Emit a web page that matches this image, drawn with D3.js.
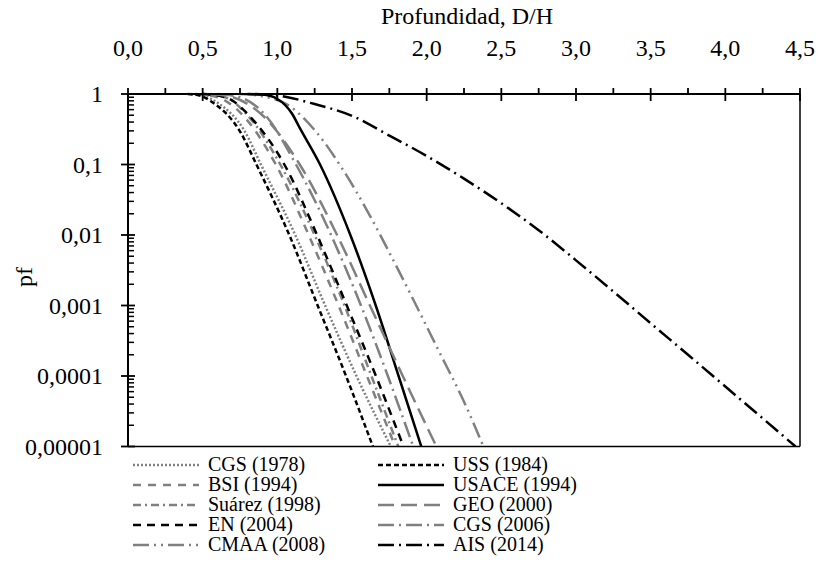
<!DOCTYPE html>
<html>
<head>
<meta charset="utf-8">
<script src="https://cdn.jsdelivr.net/npm/d3@7/dist/d3.min.js"></script>
<style>
  html, body { margin:0; padding:0; background:#fff; }
</style>
</head>
<body>
<svg id="chart" width="819" height="587"></svg>
<script>
// ---- data: [D/H, pf] ----------------------------------------------------
var cgs1978  = [[0.42,1],[0.50,0.95],[0.60,0.75],[0.78,0.30],[0.89,0.1],[1.12,0.01],[1.32,0.001],[1.53,0.0001],[1.76,0.00001]];
var uss1984  = [[0.40,1],[0.48,0.95],[0.555,0.79],[0.756,0.28],[0.86,0.1],[1.08,0.01],[1.27,0.001],[1.46,0.0001],[1.64,0.00001]];
var bsi1994  = [[0.45,1],[0.60,0.9],[0.75,0.55],[0.99,0.1],[1.21,0.01],[1.41,0.001],[1.60,0.0001],[1.79,0.00001]];
var usace1994= [[0.80,1],[0.90,0.98],[1.00,0.85],[1.10,0.52],[1.15,0.33],[1.286,0.1],[1.489,0.01],[1.659,0.001],[1.812,0.0001],[1.964,0.00001]];
var suarez1998=[[0.50,1],[0.65,0.9],[0.80,0.5],[1.02,0.1],[1.25,0.01],[1.45,0.001],[1.63,0.0001],[1.81,0.00001]];
var geo2000  = [[0.55,1],[0.70,0.9],[0.90,0.5],[1.15,0.1],[1.40,0.01],[1.62,0.001],[1.84,0.0001],[2.065,0.00001]];
var en2004   = [[0.50,1],[0.65,0.9],[0.85,0.4],[1.047,0.1],[1.266,0.01],[1.465,0.001],[1.66,0.0001],[1.845,0.00001]];
var cgs2006  = [[0.60,1],[0.75,0.9],[0.92,0.5],[1.125,0.1],[1.36,0.01],[1.56,0.001],[1.74,0.0001],[1.91,0.00001]];
var cmaa2008 = [[0.75,1],[0.90,0.93],[1.07,0.70],[1.26,0.29],[1.443,0.082],[1.613,0.02],[1.767,0.0048],[1.915,0.00116],[2.094,0.0002],[2.24,0.000048],[2.38,0.00001]];
var ais2014  = [[0.85,1],[1.0,0.955],[1.25,0.72],[1.5,0.49],[1.75,0.257],[2.0,0.132],[2.25,0.063],[2.5,0.0282],[2.75,0.0117],[3.0,0.00437],[3.25,0.00158],[3.5,0.00056],[3.75,0.0002],[4.0,0.0000708],[4.25,0.0000251],[4.47,0.00001]];

var xTicks = [0,0.5,1,1.5,2,2.5,3,3.5,4,4.5];
var yTicks = [1,0.1,0.01,0.001,0.0001,0.00001];
var yTickLabels = ["1","0,1","0,01","0,001","0,0001","0,00001"];

// legend order: left column then right column
var series = [
  {name:"CGS (1978)",   pts:cgs1978,   col:"#808080", dash:"2 2"},
  {name:"BSI (1994)",   pts:bsi1994,   col:"#808080", dash:"8 7"},
  {name:"Suárez (1998)",pts:suarez1998,col:"#808080", dash:"8 4 2 4"},
  {name:"EN (2004)",    pts:en2004,    col:"#000000", dash:"8 6"},
  {name:"CMAA (2008)",  pts:cmaa2008,  col:"#808080", dash:"16 5 2 5 2 5"},
  {name:"USS (1984)",   pts:uss1984,   col:"#000000", dash:"5 3"},
  {name:"USACE (1994)", pts:usace1994, col:"#000000", dash:null},
  {name:"GEO (2000)",   pts:geo2000,   col:"#808080", dash:"16 7"},
  {name:"CGS (2006)",   pts:cgs2006,   col:"#808080", dash:"16 5 2 5"},
  {name:"AIS (2014)",   pts:ais2014,   col:"#000000", dash:"16 5 2 5"}
];

var FONT = "Liberation Serif";
var svg = d3.select("#chart");
var L=128, R=800, T=94, B=446.5;
var x = d3.scaleLinear().domain([0,4.5]).range([L,R]);
var y = d3.scaleLog().domain([1,1e-5]).range([T,B]);
var FS = 24;

svg.append("clipPath").attr("id","plot").append("rect")
  .attr("x",L).attr("y",T-2).attr("width",R-L).attr("height",B-T+2);

var line = d3.line().x(function(d){return x(d[0]);}).y(function(d){return y(d[1]);})
  .curve(d3.curveMonotoneX);
var gl = svg.append("g").attr("clip-path","url(#plot)");
series.forEach(function(s){
  gl.append("path").attr("d",line(s.pts)).attr("fill","none")
    .attr("stroke",s.col).attr("stroke-width",2.5)
    .attr("stroke-dasharray",s.dash);
});

// frame: right and bottom lines
svg.append("line").attr("x1",R).attr("x2",R).attr("y1",T).attr("y2",B).attr("stroke","#000").attr("stroke-width",1.5);
svg.append("line").attr("x1",L).attr("x2",R).attr("y1",B).attr("y2",B).attr("stroke","#000").attr("stroke-width",1.5);

// top x axis
var ax = svg.append("g").attr("stroke","#000");
ax.append("line").attr("x1",L).attr("x2",R).attr("y1",T).attr("y2",T).attr("stroke-width",2);
d3.range(0,4.5001,0.25).forEach(function(v){
  var major = Math.abs(v*2-Math.round(v*2))<1e-6;
  ax.append("line").attr("x1",x(v)).attr("x2",x(v))
    .attr("y1",T-6).attr("y2",major?T+7:T).attr("stroke-width",1.8);
});
svg.selectAll("text.xt").data(xTicks).enter().append("text").attr("class","xt")
  .attr("x",function(d){return x(d);}).attr("y",56).attr("text-anchor","middle")
  .attr("font-family",FONT).attr("font-size",FS)
  .text(function(d){return d3.format(".1f")(d).replace(".",",");});
svg.append("text").attr("x",467).attr("y",24).attr("text-anchor","middle")
  .attr("font-family",FONT).attr("font-size",FS).text("Profundidad, D/H");

// left y axis (log)
var ay = svg.append("g").attr("stroke","#000");
ay.append("line").attr("x1",L).attr("x2",L).attr("y1",T).attr("y2",B).attr("stroke-width",2);
yTicks.forEach(function(v){
  ay.append("line").attr("x1",L-7).attr("x2",L+7).attr("y1",y(v)).attr("y2",y(v)).attr("stroke-width",1.8);
});
y.ticks().forEach(function(v){
  var m = Math.round(v/Math.pow(10,Math.floor(Math.log10(v)+1e-9)));
  if (m===1) return;
  ay.append("line").attr("x1",L).attr("x2",L+6).attr("y1",y(v)).attr("y2",y(v)).attr("stroke-width",1.5);
});
svg.selectAll("text.yt").data(yTicks).enter().append("text").attr("class","yt")
  .attr("x",103).attr("y",function(d){return y(d)+8;}).attr("text-anchor","end")
  .attr("font-family",FONT).attr("font-size",FS).text(function(d,i){return yTickLabels[i];});
svg.append("text").attr("transform","translate(32,277) rotate(-90)")
  .attr("text-anchor","middle").attr("font-family",FONT).attr("font-size",FS).text("pf");

// legend
var lg = svg.append("g");
series.forEach(function(s,i){
  var c = Math.floor(i/5), r = i%5;
  var lx = c===0 ? 133 : 378, ly = 465 + r*20;
  lg.append("line").attr("x1",lx).attr("x2",lx+66).attr("y1",ly).attr("y2",ly)
    .attr("stroke",s.col).attr("stroke-width",2.5).attr("stroke-dasharray",s.dash);
  lg.append("text").attr("x",lx+75).attr("y",ly+6).attr("font-family",FONT)
    .attr("font-size",20).text(s.name);
});
</script>
</body>
</html>
